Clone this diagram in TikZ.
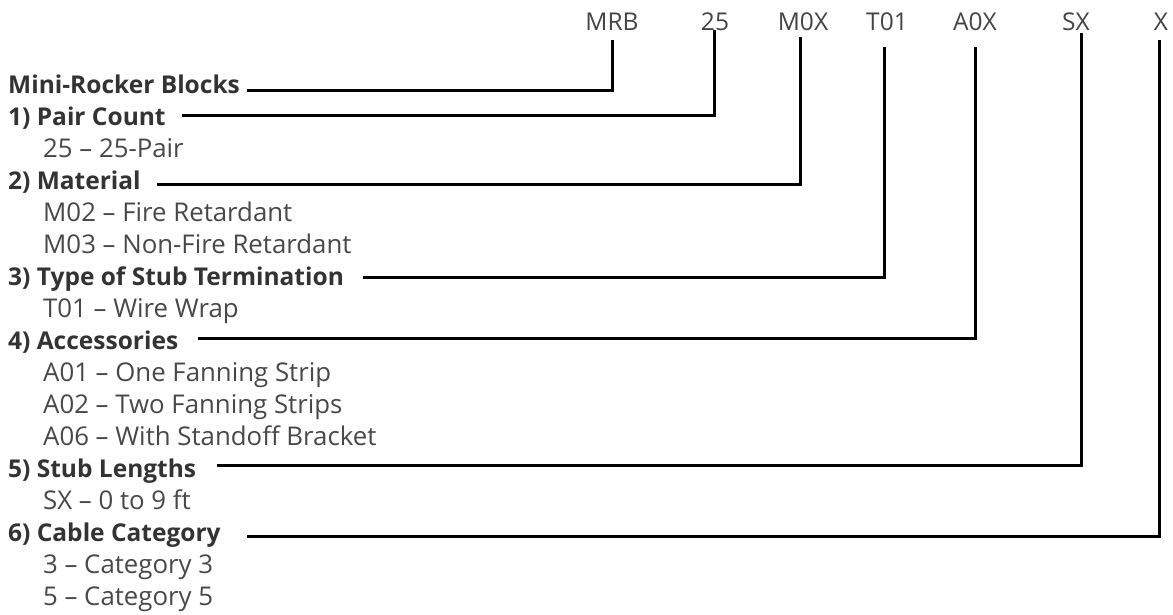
\documentclass[tikz,border=0pt]{standalone}
\usepackage{fontspec}
\setmainfont{Open Sans}
\usepackage{xcolor}
\usepackage{tikz}
\usetikzlibrary{positioning}
\definecolor{codetext}{HTML}{444444}
\definecolor{headtext}{HTML}{333333}
\definecolor{itemtext}{HTML}{484848}
\tikzset{
  code/.style={
    anchor=base, inner sep=0pt,
    font=\fontsize{24.5}{28}\selectfont, text=codetext
  },
  head/.style={
    anchor=base west, inner sep=0pt,
    font=\fontsize{24.5}{28}\selectfont\bfseries, text=headtext
  },
  item/.style={
    anchor=base west, inner sep=0pt,
    font=\fontsize{25.8}{28}\selectfont, text=itemtext
  },
  lead/.style={
    line width=3pt, color=black
  }
}

\begin{document}
\begin{tikzpicture}[x=1pt, y=-1pt]
  \useasboundingbox (0,0) rectangle (1173,614);

  % Part number code
  \node[code] (mrb)  at (612,30)  {MRB};
  \node[code] (pair) at (715,30)  {25};
  \node[code] (mat)  at (803,30)  {M0X};
  \node[code] (term) at (887,30)  {T01};
  \node[code] (acc)  at (975,30)  {A0X};
  \node[code] (len)  at (1076,30) {SX};
  \node[code] (cat)  at (1161,30) {X};

  % Headings
  \node[head] (blocksH) at (8,93)  {Mini-Rocker Blocks};
  \node[head] (pairH)   at (8,125) {1) Pair Count};
  \node[head] (matH)    at (8,189) {2) Material};
  \node[head] (termH)   at (8,285) {3) Type of Stub Termination};
  \node[head] (accH)    at (8,349) {4) Accessories};
  \node[head] (lenH)    at (8,477) {5) Stub Lengths};
  \node[head] (catH)    at (8,541) {6) Cable Category};

  % Options
  \node[item] (pair25) at (43,157) {25 -- 25-Pair};
  \node[item] (mat02)  at (43,221) {M02 -- Fire Retardant};
  \node[item] (mat03)  at (43,253) {M03 -- Non-Fire Retardant};
  \node[item] (term01) at (43,317) {T01 -- Wire Wrap};
  \node[item] (acc01)  at (43,381) {A01 -- One Fanning Strip};
  \node[item] (acc02)  at (43,413) {A02 -- Two Fanning Strips};
  \node[item] (acc06)  at (43,445) {A06 -- With Standoff Bracket};
  \node[item] (lenSX)  at (43,509) {SX -- 0 to 9 ft};
  \node[item] (cat3)   at (43,573) {3 -- Category 3};
  \node[item] (cat5)   at (43,605) {5 -- Category 5};

  % Leader starts
  \coordinate (blocksL) at (247,90.5);
  \coordinate (pairL)   at (182,115);
  \coordinate (matL)    at (157,184);
  \coordinate (termL)   at (363,277);
  \coordinate (accL)    at (198,338);
  \coordinate (lenL)    at (217,465);
  \coordinate (catL)    at (247,536);

  % Leaders
  \draw[lead] (blocksL) -| ([yshift=-10pt]mrb.south);
  \draw[lead] (pairL) -| ([xshift=-1pt]pair.south);
  \draw[lead] (matL) -| ([shift={(-3pt,-7pt)}]mat.south);
  \draw[lead] (termL) -| ([shift={(-3pt,-17pt)}]term.south);
  \draw[lead] (accL) -| ([yshift=-17pt]acc.south);
  \draw[lead] (lenL) -| ([shift={(5pt,-3pt)}]len.south);
  \draw[lead] (catL) -| ([shift={(-2pt,-10pt)}]cat.south);
\end{tikzpicture}
\end{document}
